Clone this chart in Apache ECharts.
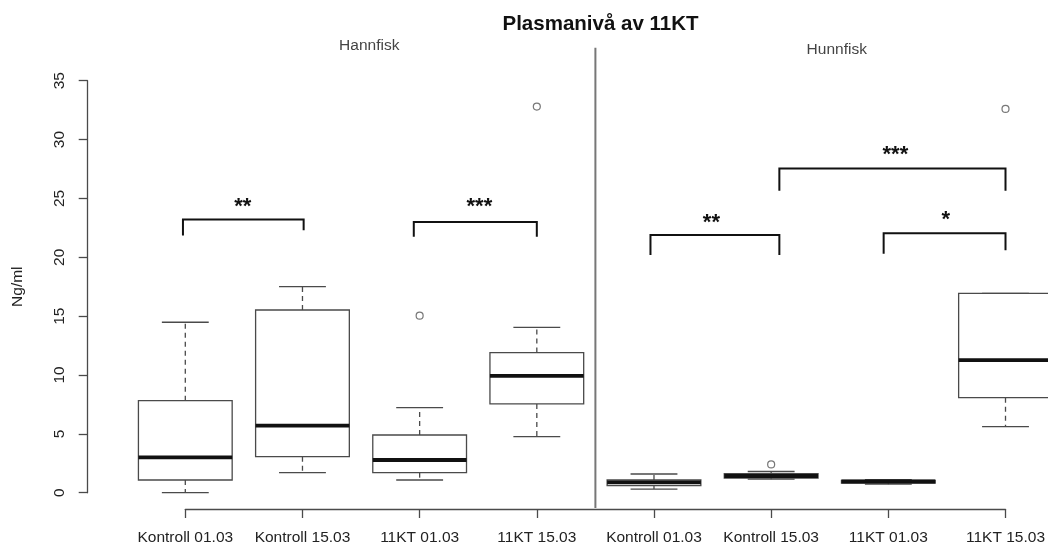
<!DOCTYPE html>
<html>
<head>
<meta charset="utf-8">
<script src="https://cdn.jsdelivr.net/npm/echarts@6/dist/echarts.min.js"></script>
<style>
  html, body { margin: 0; padding: 0; background: #fff; }
  #chart { width: 1048px; height: 550px; }
</style>
</head>
<body>
<div id="chart"></div>
<script>
// Groups along the x axis (positions 1..8)
const categories = ['Kontroll 01.03', 'Kontroll 15.03', '11KT 01.03', '11KT 15.03',
                    'Kontroll 01.03', 'Kontroll 15.03', '11KT 01.03', '11KT 15.03'];

// Five-number summaries per group (Ng/ml)
const whiskerLow   = [0.0,  1.7,  1.08, 4.76, 0.31, 1.15, 0.72, 5.61];
const quartileLow  = [1.08, 3.06, 1.7,  7.54, 0.6,  1.25, 0.82, 8.07];
const medians      = [3.0,  5.7,  2.78, 9.92, 0.88, 1.42, 0.95, 11.27];
const quartileHigh = [7.82, 15.52, 4.9, 11.9, 1.08, 1.62, 1.05, 16.94];
const whiskerHigh  = [14.48, 17.5, 7.22, 14.05, 1.59, 1.8, 1.1, 16.94];

// Outlying observations: [position, value]
const outliers = [[3, 15.04], [4, 32.8], [6, 2.4], [8, 32.6]];

// Y axis ticks
const yTicks = { min: 0, max: 35, step: 5 };

// Significance brackets: span, heights of the top bar and both ends, star text and its place
const bracketFrom  = [0.98, 2.95, 4.97, 6.07, 6.96];
const bracketTo    = [2.01, 4.0,  6.07, 8.0,  8.0];
const bracketTop   = [23.2, 23.0, 21.9, 27.55, 22.05];
const bracketLeft  = [21.85, 21.75, 20.2, 25.66, 20.3];
const bracketRight = [22.3, 21.75, 20.2, 25.66, 20.6];
const bracketStars = ['**', '***', '**', '***', '*'];
const starX        = [1.49, 3.51, 5.49, 7.06, 7.49];
const starY        = [24.25, 24.25, 22.9, 28.7, 23.15];

// Panel headings and divider
const panelNames = ['Hannfisk', 'Hunnfisk'];
const panelX     = [2.57, 6.56];
const panelY     = [37.95, 37.6];
const dividerX   = 4.5;
const dividerSpan = [-1.3, 37.8];

const boxRows = categories.map((c, i) =>
  [i + 1, whiskerLow[i], quartileLow[i], medians[i], quartileHigh[i], whiskerHigh[i]]);

const bracketRows = bracketFrom.map((f, i) =>
  [f, bracketTo[i], bracketTop[i], bracketLeft[i], bracketRight[i], starX[i], starY[i], bracketStars[i]]);

const GREY = '#4a4a4a';
const FONT = 'Liberation Sans, Arial, sans-serif';

function renderBox(params, api) {
  const x = api.value(0);
  const lo = api.value(1), q1 = api.value(2), med = api.value(3), q3 = api.value(4), hi = api.value(5);
  const unit = api.size([1, 0])[0];
  const half = unit * 0.4;
  const cap = half * 0.5;
  const px = api.coord([x, med])[0];
  const y = v => api.coord([x, v])[1];
  const dashed = { stroke: GREY, lineWidth: 1.3, lineDash: [5, 4] };
  const solid = { stroke: GREY, lineWidth: 1.3 };
  return {
    type: 'group',
    children: [
      { type: 'line', shape: { x1: px, y1: y(q3), x2: px, y2: y(hi) }, style: dashed },
      { type: 'line', shape: { x1: px, y1: y(q1), x2: px, y2: y(lo) }, style: dashed },
      { type: 'line', shape: { x1: px - cap, y1: y(hi), x2: px + cap, y2: y(hi) }, style: solid },
      { type: 'line', shape: { x1: px - cap, y1: y(lo), x2: px + cap, y2: y(lo) }, style: solid },
      { type: 'rect', shape: { x: px - half, y: y(q3), width: 2 * half, height: y(q1) - y(q3) },
        style: { fill: '#fff', stroke: GREY, lineWidth: 1.3 } },
      { type: 'line', shape: { x1: px - half, y1: y(med), x2: px + half, y2: y(med) },
        style: { stroke: '#111', lineWidth: 3.8 } }
    ]
  };
}

function renderBracket(params, api) {
  const row = bracketRows[params.dataIndex];
  const pL = api.coord([row[0], row[3]]);
  const tL = api.coord([row[0], row[2]]);
  const tR = api.coord([row[1], row[2]]);
  const pR = api.coord([row[1], row[4]]);
  const s = api.coord([row[5], row[6]]);
  return {
    type: 'group',
    children: [
      { type: 'polyline', shape: { points: [pL, tL, tR, pR] },
        style: { stroke: '#111', lineWidth: 2, fill: null } },
      { type: 'text', x: s[0], y: s[1],
        style: { text: row[7], font: 'bold 22px ' + FONT, fill: '#111',
                 align: 'center', verticalAlign: 'middle' } }
    ]
  };
}

function renderPanels(params, api) {
  const i = params.dataIndex;
  const p = api.coord([panelX[i], panelY[i]]);
  const children = [
    { type: 'text', x: p[0], y: p[1],
      style: { text: panelNames[i], font: '15.5px ' + FONT, fill: '#444',
               align: 'center', verticalAlign: 'middle' } }
  ];
  if (i === 0) {
    const a = api.coord([dividerX, dividerSpan[0]]);
    const b = api.coord([dividerX, dividerSpan[1]]);
    children.push({ type: 'line', shape: { x1: a[0], y1: a[1], x2: b[0], y2: b[1] },
                    style: { stroke: '#777', lineWidth: 2 } });
  }
  return { type: 'group', children };
}

const chart = echarts.init(document.getElementById('chart'), null, { renderer: 'canvas' });

chart.setOption({
  animation: false,
  backgroundColor: '#fff',
  title: {
    text: 'Plasmanivå av 11KT',
    left: 595.5,
    top: 9,
    textAlign: 'center',
    textStyle: { fontFamily: FONT, fontWeight: 'bold', fontSize: 20.5, color: '#111' }
  },
  grid: { left: 185.3, right: 41.3, top: 80.7, bottom: 57.3, containLabel: false },
  xAxis: {
    type: 'value',
    min: 1, max: 8, interval: 1,
    offset: 16.3,
    splitLine: { show: false },
    axisLine: { show: true, onZero: false, lineStyle: { color: GREY, width: 1.3 } },
    axisTick: { show: true, inside: false, length: 9, lineStyle: { color: GREY, width: 1.3 } },
    axisLabel: {
      margin: 21,
      fontFamily: FONT, fontSize: 15.5, color: '#222',
      formatter: v => categories[Math.round(v) - 1] || ''
    }
  },
  yAxis: {
    type: 'value',
    min: yTicks.min, max: yTicks.max, interval: yTicks.step,
    offset: 97.6,
    name: 'Ng/ml',
    nameLocation: 'middle',
    nameRotate: 90,
    nameGap: 62,
    nameTextStyle: { fontFamily: FONT, fontSize: 15.5, color: '#222' },
    splitLine: { show: false },
    axisLine: { show: true, onZero: false, lineStyle: { color: GREY, width: 1.3 } },
    axisTick: { show: true, inside: false, length: 9, lineStyle: { color: GREY, width: 1.3 } },
    axisLabel: { rotate: 90, margin: 20, fontFamily: FONT, fontSize: 15.5, color: '#222' }
  },
  series: [
    {
      type: 'custom',
      clip: false,
      renderItem: renderPanels,
      data: panelNames.map((n, i) => [panelX[i], panelY[i]]),
      encode: { x: 0, y: 1 },
      silent: true
    },
    {
      type: 'custom',
      clip: false,
      renderItem: renderBox,
      data: boxRows,
      encode: { x: 0, y: [1, 2, 3, 4, 5] }
    },
    {
      type: 'scatter',
      data: outliers,
      symbol: 'circle',
      symbolSize: 7,
      clip: false,
      itemStyle: { color: '#fff', borderColor: '#555', borderWidth: 1.2 }
    },
    {
      type: 'custom',
      clip: false,
      renderItem: renderBracket,
      data: bracketRows.map(r => [r[0], r[2]]),
      encode: { x: 0, y: 1 }
    }
  ]
});
</script>
</body>
</html>
